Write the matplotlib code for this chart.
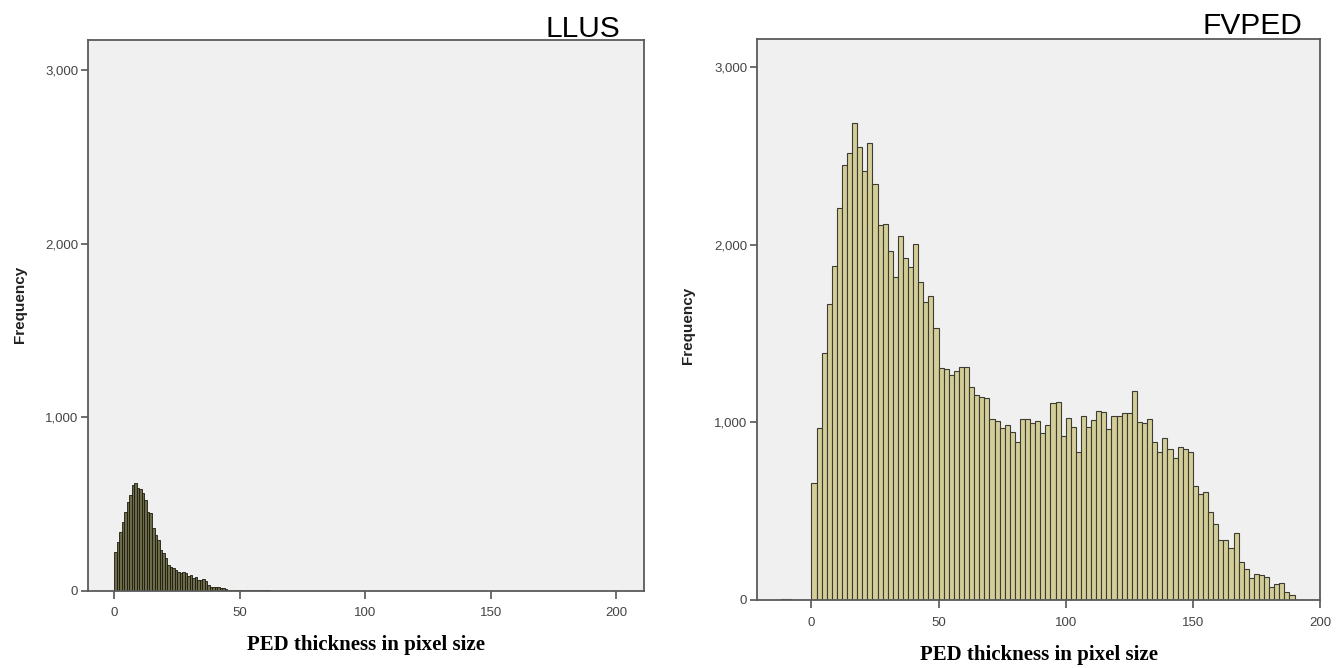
import numpy as np
import matplotlib
matplotlib.use("Agg")
import matplotlib.pyplot as plt

# ---------------- data ----------------
titles = ["LLUS", "FVPED"]
x_label = "PED thickness in pixel size"
y_label = "Frequency"
x_ticks = [0, 50, 100, 150, 200]
y_ticks = [0, 1000, 2000, 3000]
y_tick_labels = ["0", "1,000", "2,000", "3,000"]

# LLUS: bins of width 1 starting at 0
llus_start = 0
llus_width = 1
llus_counts = [224, 281, 339, 397, 454, 512, 550, 608, 618, 589,
               583, 564, 522, 454, 445, 358, 320, 291, 233, 214,
               186, 147, 134, 128, 118, 108, 99, 108, 99, 84,
               89, 74, 80, 61, 61, 66, 55, 32, 22, 18,
               22, 18, 13, 13, 7, 4, 3, 3, 2, 2,
               1, 1, 1, 1, 1, 1, 1, 1, 4, 5, 4, 1]

# FVPED: bins of width 2 starting at -12
fvped_start = -12
fvped_width = 2
fvped_counts = [8, 8, 0, 0, 0, 0,
                657, 966, 1388, 1664, 1882, 2204, 2448, 2514, 2683, 2551,
                2414, 2570, 2341, 2110, 2114, 1966, 1820, 2049, 1927, 1876,
                2002, 1791, 1679, 1713, 1533, 1304, 1298, 1266, 1291, 1313,
                1309, 1197, 1154, 1141, 1135, 1017, 1007, 966, 985, 947,
                891, 1017, 1019, 994, 1007, 941, 985, 1111, 1116, 923,
                1026, 972, 831, 1037, 975, 1013, 1064, 1056, 962, 1037,
                1037, 1054, 1054, 1176, 1004, 994, 1019, 891, 835, 910,
                850, 797, 863, 849, 835, 642, 597, 610, 497, 428,
                338, 338, 294, 379, 212, 173, 126, 145, 141, 131,
                75, 88, 97, 47, 28]

# ---------------- figure ----------------
W, H = 1341, 668
fig = plt.figure(figsize=(W / 100, H / 100), dpi=100)
fig.patch.set_facecolor("white")

def px_axes(l, r, t, b):
    return fig.add_axes([l / W, 1 - b / H, (r - l) / W, (b - t) / H])

ax1 = px_axes(88, 644, 40, 590.5)
ax2 = px_axes(757, 1320, 39, 600)

def style(ax, xlim, ylim):
    ax.set_facecolor("#f0f0f0")
    ax.set_xlim(*xlim)
    ax.set_ylim(*ylim)
    for s in ax.spines.values():
        s.set_color("#5a5a5a")
        s.set_linewidth(1.3)
    ax.set_xticks(x_ticks)
    ax.set_xticklabels([str(t) for t in x_ticks])
    ax.set_yticks(y_ticks)
    ax.set_yticklabels(y_tick_labels)
    ax.tick_params(axis="both", direction="out", length=6, width=1.2,
                   color="#555555", labelcolor="#444444", labelsize=9.5)
    ax.tick_params(axis="x", pad=6)
    ax.tick_params(axis="y", pad=2, length=5)
    for lab in ax.get_xticklabels() + ax.get_yticklabels():
        lab.set_family("Liberation Sans")
    ax.set_ylabel(y_label, fontsize=11, fontweight="bold",
                  family="Liberation Sans", color="#222222")
    ax.set_xlabel(x_label, fontsize=15, fontweight="bold",
                  family="Liberation Serif", color="black")

# Left panel
l_lefts = llus_start + llus_width * np.arange(len(llus_counts))
ax1.bar(l_lefts, llus_counts, width=llus_width, align="edge",
        color="#6e6c48", edgecolor="#1a1a10", linewidth=0.6)
style(ax1, (-10.5, 211), (0, 3173))
ax1.yaxis.set_label_coords(-0.11, 0.52)
ax1.xaxis.set_label_coords(0.5, -0.08)

# Right panel
r_lefts = fvped_start + fvped_width * np.arange(len(fvped_counts))
ax2.bar(r_lefts, fvped_counts, width=fvped_width, align="edge",
        color="#d3ce97", edgecolor="#3c3c34", linewidth=0.8)
style(ax2, (-21.4, 200), (0, 3158))
ax2.yaxis.set_label_coords(-0.11, 0.49)
ax2.xaxis.set_label_coords(0.5, -0.08)

# Titles
fig.text(620 / W, 1 - 37 / H, titles[0], ha="right", va="baseline",
         fontsize=21.5, family="Liberation Sans", color="black")
fig.text(1302 / W, 1 - 34 / H, titles[1], ha="right", va="baseline",
         fontsize=21.5, family="Liberation Sans", color="black")

fig.savefig("out.png", dpi=100, facecolor="white")
